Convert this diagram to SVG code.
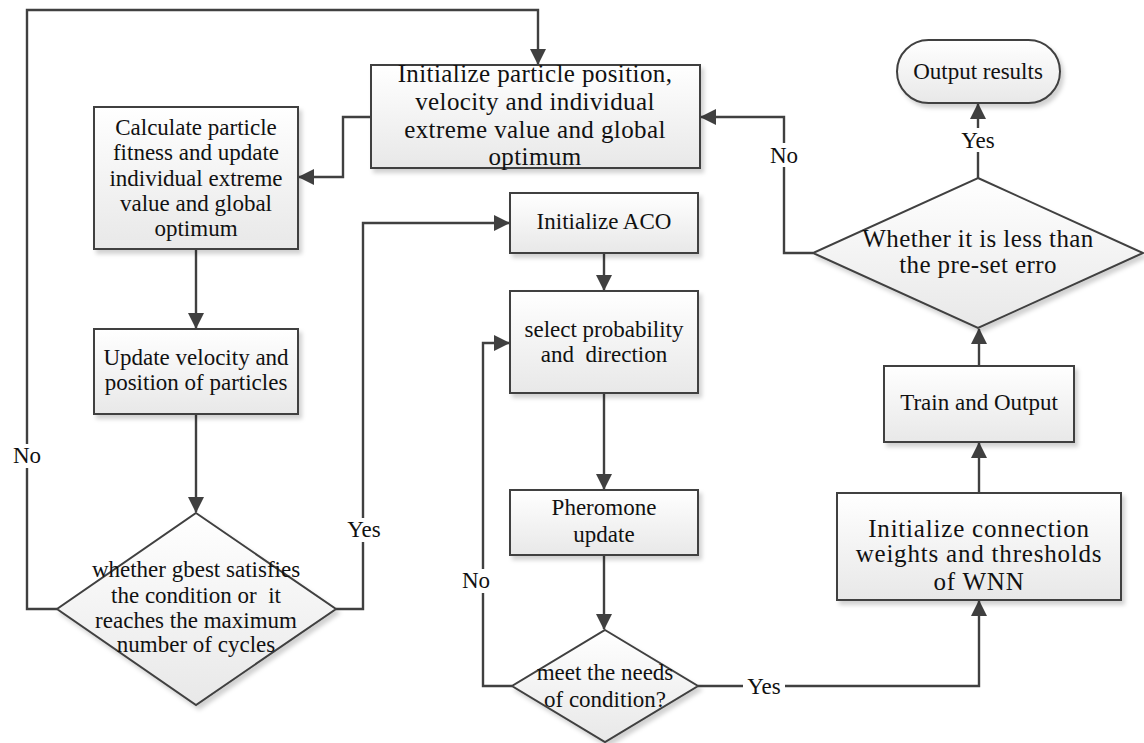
<svg xmlns="http://www.w3.org/2000/svg" width="1144" height="743" viewBox="0 0 1144 743">
<style>
.box{fill:url(#g);stroke:#404040;stroke-width:2;filter:url(#sh)}
.con{fill:none;stroke:#404040;stroke-width:2.4}
.t{font-family:"Liberation Serif",serif;font-size:23px;letter-spacing:0px;fill:#111;text-anchor:middle}
.tm{font-size:25px;letter-spacing:0.4px}
.tw{font-size:25px;letter-spacing:0.8px}
.lb{fill:#fff}
</style>
<defs>
<linearGradient id="g" x1="0" y1="0" x2="0" y2="1">
<stop offset="0" stop-color="#ffffff"/>
<stop offset="1" stop-color="#e8e8e8"/>
</linearGradient>
<filter id="sh" x="-10%" y="-10%" width="130%" height="130%">
<feDropShadow dx="3" dy="4" stdDeviation="2" flood-color="#000" flood-opacity="0.18"/>
</filter>
<marker id="ar" markerUnits="userSpaceOnUse" markerWidth="16" markerHeight="16" viewBox="0 0 16 16" refX="15" refY="8" orient="auto">
<path d="M0,0 L16,8 L0,16 z" fill="#404040"/>
</marker>
</defs>
<rect width="1144" height="743" fill="#fff"/>

<g id="connectors">
<path class="con" d="M57,609 H27 V10 H538 V64" marker-end="url(#ar)"/>
<path class="con" d="M371,117 H343 V177 H299" marker-end="url(#ar)"/>
<path class="con" d="M196,249 V328" marker-end="url(#ar)"/>
<path class="con" d="M196,414 V512" marker-end="url(#ar)"/>
<path class="con" d="M336,609 H363 V223 H509" marker-end="url(#ar)"/>
<path class="con" d="M604,253 V290" marker-end="url(#ar)"/>
<path class="con" d="M604,393 V489" marker-end="url(#ar)"/>
<path class="con" d="M604,555 V629" marker-end="url(#ar)"/>
<path class="con" d="M512,686 H483 V343 H509" marker-end="url(#ar)"/>
<path class="con" d="M698,686 H979 V601" marker-end="url(#ar)"/>
<path class="con" d="M979,493 V443" marker-end="url(#ar)"/>
<path class="con" d="M979,366 V329" marker-end="url(#ar)"/>
<path class="con" d="M978,178 V104" marker-end="url(#ar)"/>
<path class="con" d="M813,253 H784 V117 H701" marker-end="url(#ar)"/>
<g id="labels">
<rect class="lb" x="9" y="444" width="36" height="24"/>
<text class="t" x="27" y="463">No</text>
<rect class="lb" x="344" y="518" width="40" height="24"/>
<text class="t" x="364" y="537">Yes</text>
<rect class="lb" x="460" y="569" width="32" height="24"/>
<text class="t" x="476" y="588">No</text>
<rect class="lb" x="743" y="674" width="42" height="24"/>
<text class="t" x="764" y="694">Yes</text>
<rect class="lb" x="958" y="128" width="40" height="24"/>
<text class="t" x="978" y="148">Yes</text>
<rect class="lb" x="767" y="143" width="34" height="24"/>
<text class="t" x="784" y="163">No</text>
</g>
</g>

<g id="n_init_pso">
<rect class="box" x="371" y="65" width="329" height="103"/>
<text class="t tm" x="535" y="82">Initialize particle position,</text>
<text class="t tm" x="535" y="110">velocity and individual</text>
<text class="t tm" x="535" y="138">extreme value and global</text>
<text class="t tm" x="535" y="165">optimum</text>
</g>
<g id="n_calc">
<rect class="box" x="94" y="107" width="204" height="142"/>
<text class="t" x="196" y="135">Calculate particle</text>
<text class="t" x="196" y="160">fitness and update</text>
<text class="t" x="196" y="186">individual extreme</text>
<text class="t" x="196" y="211">value and global</text>
<text class="t" x="196" y="236">optimum</text>
</g>
<g id="n_update">
<rect class="box" x="94" y="329" width="204" height="85"/>
<text class="t" x="196" y="365">Update velocity and</text>
<text class="t" x="196" y="390">position of particles</text>
</g>
<g id="n_cond1">
<polygon class="box" points="196,513 336,609 196,705 57,609"/>
<text class="t" x="196" y="577">whether gbest satisfies</text>
<text class="t" x="196" y="603">the condition or&#160; it</text>
<text class="t" x="196" y="628">reaches the maximum</text>
<text class="t" x="196" y="652">number of cycles</text>
</g>
<g id="n_aco">
<rect class="box" x="510" y="193" width="188" height="60"/>
<text class="t" x="604" y="229">Initialize ACO</text>
</g>
<g id="n_select">
<rect class="box" x="510" y="291" width="188" height="102"/>
<text class="t" x="604" y="337">select probability</text>
<text class="t" x="604" y="362">and&#160; direction</text>
</g>
<g id="n_pher">
<rect class="box" x="510" y="490" width="188" height="65"/>
<text class="t" x="604" y="515">Pheromone</text>
<text class="t" x="604" y="542">update</text>
</g>
<g id="n_cond2">
<polygon class="box" points="605,630 698,686 605,742 512,686"/>
<text class="t" x="605" y="680">meet the needs</text>
<text class="t" x="605" y="707">of condition?</text>
</g>
<g id="n_wnn">
<rect class="box" x="837" y="493" width="284" height="107"/>
<text class="t tw" x="979" y="537">Initialize connection</text>
<text class="t tw" x="979" y="562">weights and thresholds</text>
<text class="t tw" x="979" y="590">of WNN</text>
</g>
<g id="n_train">
<rect class="box" x="884" y="366" width="190" height="76"/>
<text class="t" x="979" y="410">Train and Output</text>
</g>
<g id="n_cond3">
<polygon class="box" points="978,178 1143,253 978,328 813,253"/>
<text class="t tm" x="978" y="247">Whether it is less than</text>
<text class="t tm" x="978" y="273">the pre-set erro</text>
</g>
<g id="n_output">
<rect class="box" x="897" y="40" width="163" height="63" rx="31.5" ry="31.5"/>
<text class="t" x="978" y="79">Output results</text>
</g>
</svg>
